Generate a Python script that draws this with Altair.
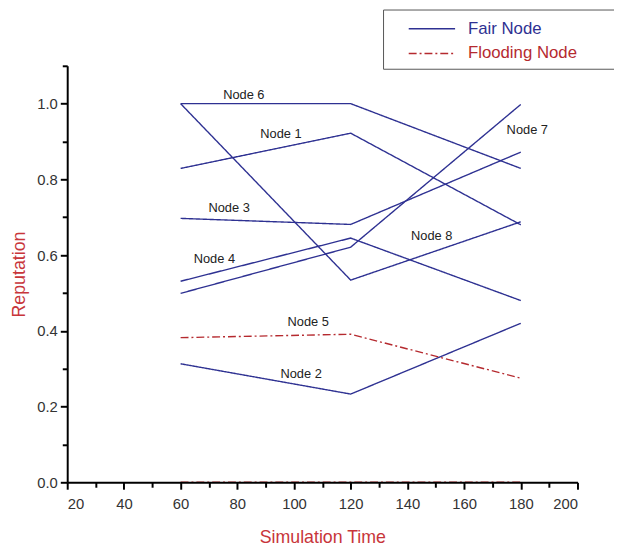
import altair as alt
import pandas as pd

# ---- data ----
times = [60, 120, 180]
series_names = ["Node 6", "Node 8", "Node 1", "Node 3", "Node 4", "Node 7", "Node 2", "Node 5", "Node 9"]
series_kind = ["Fair Node", "Fair Node", "Fair Node", "Fair Node", "Fair Node", "Fair Node", "Fair Node",
               "Flooding Node", "Flooding Node"]
series_values = [
    [1.00, 1.00, 0.829],
    [1.00, 0.534, 0.688],
    [0.829, 0.922, 0.680],
    [0.697, 0.681, 0.872],
    [0.531, 0.645, 0.480],
    [0.499, 0.621, 0.998],
    [0.313, 0.233, 0.420],
    [0.382, 0.391, 0.275],
    [0.0, 0.0, 0.0],
]

label_text = ["Node 6", "Node 1", "Node 3", "Node 4", "Node 8", "Node 7", "Node 5", "Node 2"]
label_x = [82.3, 95.4, 77.1, 71.9, 148.6, 182.3, 105.0, 102.5]
label_y = [1.023, 0.919, 0.724, 0.589, 0.651, 0.930, 0.424, 0.286]

x_major = list(range(20, 201, 20))
x_minor = list(range(30, 200, 20))
y_major = [0.0, 0.2, 0.4, 0.6, 0.8, 1.0]
y_minor = [0.1, 0.3, 0.5, 0.7, 0.9, 1.1]

rows = []
for name, kind, vals in zip(series_names, series_kind, series_values):
    for t, v in zip(times, vals):
        rows.append({"series": name, "kind": kind, "time": t, "rep": v})
lines_df = pd.DataFrame(rows)
labels_df = pd.DataFrame({"text": label_text, "time": label_x, "rep": label_y})

BLUE = "#2e3192"
RED = "#b52a2f"
TITLE_RED = "#c8353a"
FONT = "Liberation Sans"

x_scale = alt.Scale(domain=[20, 200], nice=False, zero=False)
y_scale = alt.Scale(domain=[0, 1.1], nice=False)

x_axis_major = alt.Axis(
    values=x_major, orient="bottom", tickSize=7,
    title="Simulation Time", grid=False,
    labelFontSize=15, labelPadding=8,
    titleFontSize=18, titlePadding=17, zindex=2,
)
x_axis_minor = alt.Axis(
    values=x_minor, orient="bottom", tickSize=5,
    labels=False, domain=False, title=None, grid=False, zindex=2,
)
y_axis_major = alt.Axis(
    values=y_major, orient="left", tickSize=7, format=".1f",
    title="Reputation", grid=False,
    labelFontSize=15, labelPadding=3,
    titleFontSize=18, titlePadding=8, zindex=2,
)
y_axis_minor = alt.Axis(
    values=y_minor, orient="left", tickSize=5,
    labels=False, domain=False, title=None, grid=False, zindex=2,
)

legend = alt.Legend(
    title=None,
    orient="none",
    legendX=320,
    legendY=-57,
    direction="vertical",
    symbolType="M-2,0H2",
    symbolSize=552,
    symbolStrokeWidth=1.5,
    symbolOffset=30,
    labelFontSize=17,
    labelFont=FONT,
    labelOffset=24,
    labelColor={"expr": "datum.label == 'Fair Node' ? '%s' : '%s'" % (BLUE, RED)},
    labelExpr="datum.label + '\u2800\u2800\u2800'",
    labelLimit=400,
    strokeColor="#555555",
    fillColor="white",
    padding=7,
    rowPadding=4,
)

lines = alt.Chart(lines_df).mark_line(strokeWidth=1.4).encode(
    x=alt.X("time:Q", scale=x_scale, axis=x_axis_major),
    y=alt.Y("rep:Q", scale=y_scale, axis=y_axis_major),
    detail="series:N",
    color=alt.Color("kind:N", scale=alt.Scale(domain=["Fair Node", "Flooding Node"], range=[BLUE, RED]),
                    legend=legend),
    strokeDash=alt.StrokeDash("kind:N", scale=alt.Scale(domain=["Fair Node", "Flooding Node"],
                                                         range=[[1, 0], [8, 3, 2, 3]]),
                              legend=legend),
)

labels = alt.Chart(labels_df).mark_text(fontSize=13, font=FONT, color="#222222",
                                        align="center", baseline="middle").encode(
    x=alt.X("time:Q", scale=x_scale, axis=x_axis_minor),
    y=alt.Y("rep:Q", scale=y_scale, axis=y_axis_minor),
    text="text:N",
)

chart = alt.layer(lines, labels).resolve_axis(
    x="independent", y="independent"
).properties(
    width=517,
    height=422,
    autosize=alt.AutoSizeParams(type="none"),
    padding={"left": 60, "top": 55, "right": 37, "bottom": 62},
).configure_view(
    stroke=None
).configure_axis(
    domainColor="black",
    domainWidth=2,
    tickColor="black",
    tickWidth=2,
    labelColor="#333333",
    labelFont=FONT,
    titleFont=FONT,
    titleColor=TITLE_RED,
    titleFontWeight="normal",
)

chart.save("out.html", embed_options={"renderer": "svg", "actions": False})
